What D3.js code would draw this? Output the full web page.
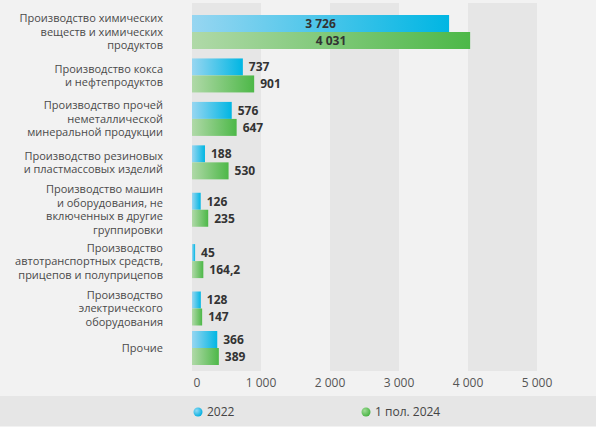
<!DOCTYPE html>
<html><head><meta charset="utf-8">
<script src="https://cdn.jsdelivr.net/npm/d3@7/dist/d3.min.js"></script>
<style>body{margin:0;background:#fff;}svg{display:block;}</style>
</head><body>
<svg id="c" width="600" height="431"></svg>
<script>
const categories = [
  ["Производство химических","веществ и химических","продуктов"],
  ["Производство кокса","и нефтепродуктов"],
  ["Производство прочей","неметаллической","минеральной продукции"],
  ["Производство резиновых","и пластмассовых изделий"],
  ["Производство машин","и оборудования, не","включенных в другие","группировки"],
  ["Производство","автотранспортных средств,","прицепов и полуприцепов"],
  ["Производство","электрического","оборудования"],
  ["Прочие"]
];
const series2022 = [3726, 737, 576, 188, 126, 45, 128, 366];
const series2024 = [4031, 901, 647, 530, 235, 164.2, 147, 389];
const seriesNames = ["2022", "1 пол. 2024"];
const xTicks = [0, 1000, 2000, 3000, 4000, 5000];

const svg = d3.select("#c");
const font = "'Open Sans', sans-serif";

const defs = svg.append("defs");
function grad(id, c0, c1){
  const g = defs.append("linearGradient").attr("id", id).attr("x1","0").attr("x2","1").attr("y1","0").attr("y2","0");
  g.append("stop").attr("offset","0").attr("stop-color", c0);
  g.append("stop").attr("offset","1").attr("stop-color", c1);
}
grad("gBlue", "#97d6f1", "#00b6e3");
grad("gGreen", "#b0d9a8", "#4db848");
const rg1 = defs.append("radialGradient").attr("id","cBlue").attr("cx","0.35").attr("cy","0.35").attr("r","0.7");
rg1.append("stop").attr("offset","0").attr("stop-color","#8fdaf5");
rg1.append("stop").attr("offset","1").attr("stop-color","#00aee0");
const rg2 = defs.append("radialGradient").attr("id","cGreen").attr("cx","0.35").attr("cy","0.35").attr("r","0.7");
rg2.append("stop").attr("offset","0").attr("stop-color","#9fdc96");
rg2.append("stop").attr("offset","1").attr("stop-color","#45b240");

// background
svg.append("rect").attr("x",0).attr("y",0).attr("width",596).attr("height",427).attr("fill","#f2f2f2");
svg.append("rect").attr("x",0).attr("y",396).attr("width",596).attr("height",30).attr("fill","#e6e6e6");

const x = d3.scaleLinear().domain([0, 5000]).range([192, 537]);

// vertical slots sized by label line count
const slot = categories.map(l => 24 + 8 * l.length);
const cum = [];
let acc = 0;
slot.forEach((s, i) => { cum.push(acc + s/2); acc += s; });
const y = d3.scaleLinear().domain([cum[0], cum[cum.length-1]]).range([32, 348]);

// alternating bands
const bandTop = 3, bandBottom = 371;
svg.append("g").selectAll("rect").data(d3.range(0, 5000, 2000)).join("rect")
  .attr("x", d => x(d)).attr("width", d => x(d+1000) - x(d))
  .attr("y", bandTop).attr("height", bandBottom - bandTop).attr("fill", "#e6e6e6");

const barH = 17;
const g = svg.append("g");
categories.forEach((lines, i) => {
  const cy = y(cum[i]);
  const vals = [series2022[i], series2024[i]];
  vals.forEach((v, j) => {
    const top = cy - barH + j*barH;
    g.append("rect").attr("x", x(0)).attr("y", top).attr("width", x(v) - x(0)).attr("height", barH)
      .attr("fill", j === 0 ? "url(#gBlue)" : "url(#gGreen)");
    const label = d3.format(",")(v).replace(/,/g, " ").replace(".", ",");
    const inside = (x(v) - x(0)) > 100;
    g.append("text")
      .attr("x", inside ? (x(0) + x(v))/2 : x(v) + 6)
      .attr("y", top + barH/2)
      .attr("dy", "0.36em")
      .attr("text-anchor", inside ? "middle" : "start")
      .attr("font-family", font).attr("font-weight", 700).attr("font-size", 12)
      .attr("fill", "#333").text(label);
  });
  const lh = 13.5;
  const t = g.append("text").attr("text-anchor","end").attr("font-family", font)
    .attr("font-size", 11).attr("fill", "#4a4a4a");
  lines.forEach((ln, k) => {
    t.append("tspan").attr("x", 163).attr("y", cy + (k - (lines.length-1)/2)*lh).attr("dy","0.36em").text(ln);
  });
});

// x axis labels
svg.append("g").selectAll("text").data(xTicks).join("text")
  .attr("x", d => d === 0 ? x(d) + 5 : x(d)).attr("y", 383).attr("dy","0.36em")
  .attr("text-anchor","middle").attr("font-family", font).attr("font-size", 12).attr("fill","#555")
  .text(d => d3.format(",")(d).replace(/,/g, " "));

// legend
const leg = [{x:198, fill:"url(#cBlue)", name: seriesNames[0]}, {x:366, fill:"url(#cGreen)", name: seriesNames[1]}];
leg.forEach(l => {
  svg.append("circle").attr("cx", l.x).attr("cy", 412).attr("r", 4.5).attr("fill", l.fill);
  svg.append("text").attr("x", l.x + 9).attr("y", 412).attr("dy","0.36em").attr("font-family", font)
    .attr("font-size", 12).attr("fill","#444").text(l.name);
});
</script>
</body></html>
